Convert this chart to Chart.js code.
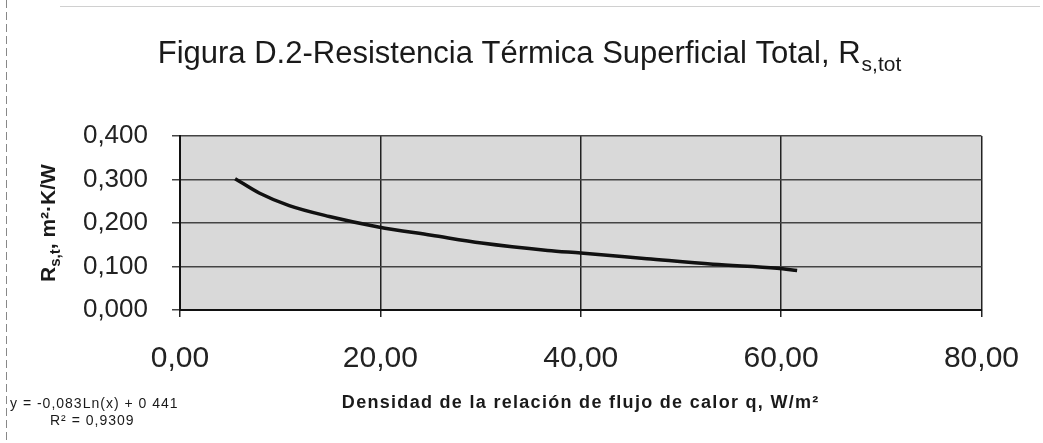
<!DOCTYPE html>
<html>
<head>
<meta charset="utf-8">
<script src="https://cdn.jsdelivr.net/npm/chart.js@4.4.1/dist/chart.umd.min.js"></script>
<style>
  html, body { margin: 0; padding: 0; background: #fff; }
  #wrap { width: 1043px; height: 443px; }
</style>
</head>
<body>
<div id="wrap"><canvas id="rsChart"></canvas></div>
<script>
// curve (q in W/m2, Rs in m2.K/W)
const qValues = [5.5, 7.9, 10.9, 14.9, 19.8, 25.1, 30.1, 36.7, 40.0, 46.6, 53.2, 59.6, 61.6];
const rsValues = [0.302, 0.269, 0.240, 0.215, 0.191, 0.172, 0.154, 0.137, 0.131, 0.118, 0.105, 0.096, 0.091];

const xTicks = [0, 20, 40, 60, 80];
const yTicks = [0, 0.1, 0.2, 0.3, 0.4];

const equationText = 'y = -0,083Ln(x) + 0 441';
const r2Text = 'R² = 0,9309';

const FONT = '"Liberation Sans", Arial, sans-serif';

const plotBackground = {
    id: 'plotBackground',
    beforeDraw(chart) {
        const { ctx, chartArea: a } = chart;
        ctx.save();
        ctx.fillStyle = '#d9d9d9';
        ctx.fillRect(a.left, a.top, a.right - a.left, a.bottom - a.top);
        ctx.restore();
    }
};

const extraText = {
    id: 'extraText',
    afterDraw(chart) {
        const { ctx, chartArea: a } = chart;
        ctx.save();
        ctx.fillStyle = '#1a1a1a';

        // title with subscript
        const main = 'Figura D.2-Resistencia Térmica Superficial Total, R';
        const sub = 's,tot';
        ctx.font = '31px ' + FONT;
        const w1 = ctx.measureText(main).width;
        ctx.font = '21px ' + FONT;
        const w2 = ctx.measureText(sub).width;
        let x0 = 529 - (w1 + w2) / 2;
        ctx.textBaseline = 'alphabetic';
        ctx.textAlign = 'left';
        ctx.font = '31px ' + FONT;
        ctx.fillText(main, x0, 63);
        ctx.font = '21px ' + FONT;
        ctx.fillText(sub, x0 + w1 + 1, 71);

        // y axis title, rotated
        ctx.save();
        ctx.translate(55, (a.top + a.bottom) / 2);
        ctx.rotate(-Math.PI / 2);
        const p1 = 'R', p2 = 's,t', p3 = ', m²·K/W';
        ctx.font = 'bold 21px ' + FONT;
        const a1 = ctx.measureText(p1).width;
        const a3 = ctx.measureText(p3).width;
        ctx.font = 'bold 15px ' + FONT;
        const a2 = ctx.measureText(p2).width;
        let sx = -(a1 + a2 + a3) / 2;
        ctx.font = 'bold 21px ' + FONT;
        ctx.fillText(p1, sx, 0);
        ctx.font = 'bold 15px ' + FONT;
        ctx.fillText(p2, sx + a1, 5);
        ctx.font = 'bold 21px ' + FONT;
        ctx.fillText(p3, sx + a1 + a2, 0);
        ctx.restore();

        // x axis title
        ctx.font = 'bold 18px ' + FONT;
        ctx.letterSpacing = '1.3px';
        ctx.textAlign = 'center';
        ctx.textBaseline = 'middle';
        ctx.fillText('Densidad de la relación de flujo de calor q, W/m²', (a.left + a.right) / 2, 403);

        // trendline equation
        ctx.font = '14px ' + FONT;
        ctx.letterSpacing = '1px';
        ctx.textAlign = 'left';
        ctx.fillText(equationText, 10, 404);
        ctx.fillText(r2Text, 50, 421);
        ctx.letterSpacing = '0px';

        // scan edges
        ctx.strokeStyle = '#888';
        ctx.lineWidth = 1;
        ctx.setLineDash([8, 4]);
        ctx.beginPath();
        ctx.moveTo(6.5, 0);
        ctx.lineTo(6.5, 443);
        ctx.stroke();
        ctx.setLineDash([]);
        ctx.strokeStyle = '#d0d0d0';
        ctx.beginPath();
        ctx.moveTo(60, 6.5);
        ctx.lineTo(1040, 6.5);
        ctx.stroke();
        ctx.restore();
    }
};

const ctx = document.getElementById('rsChart').getContext('2d');
new Chart(ctx, {
    type: 'scatter',
    data: {
        datasets: [{
            data: qValues.map((q, i) => ({ x: q, y: rsValues[i] })),
            showLine: true,
            borderColor: '#111',
            borderWidth: 3.5,
            pointRadius: 0,
            cubicInterpolationMode: 'monotone',
            fill: false
        }]
    },
    options: {
        responsive: true,
        maintainAspectRatio: false,
        animation: false,
        layout: { padding: { top: 136, right: 61, left: 0, bottom: 0 } },
        plugins: {
            legend: { display: false },
            tooltip: { enabled: false },
            title: { display: false }
        },
        scales: {
            x: {
                type: 'linear',
                min: 0,
                max: 80,
                afterBuildTicks: s => { s.ticks = xTicks.map(v => ({ value: v })); },
                afterFit: s => { s.height = 443 - 310; },
                ticks: {
                    color: '#222',
                    font: { family: FONT, size: 30 },
                    padding: 24,
                    maxRotation: 0,
                    callback: v => v.toFixed(2).replace('.', ',')
                },
                grid: { color: '#222', lineWidth: 1.5, tickLength: 7 },
                border: { color: '#111', width: 2 }
            },
            y: {
                min: 0,
                max: 0.4,
                afterBuildTicks: s => { s.ticks = yTicks.map(v => ({ value: v })); },
                afterFit: s => { s.width = 180; },
                ticks: {
                    color: '#222',
                    font: { family: FONT, size: 26 },
                    padding: 24,
                    callback: v => v.toFixed(3).replace('.', ',')
                },
                grid: { color: '#444', lineWidth: 1.5, tickLength: 8 },
                border: { color: '#111', width: 2 }
            }
        }
    },
    plugins: [plotBackground, extraText]
});
</script>
</body>
</html>
